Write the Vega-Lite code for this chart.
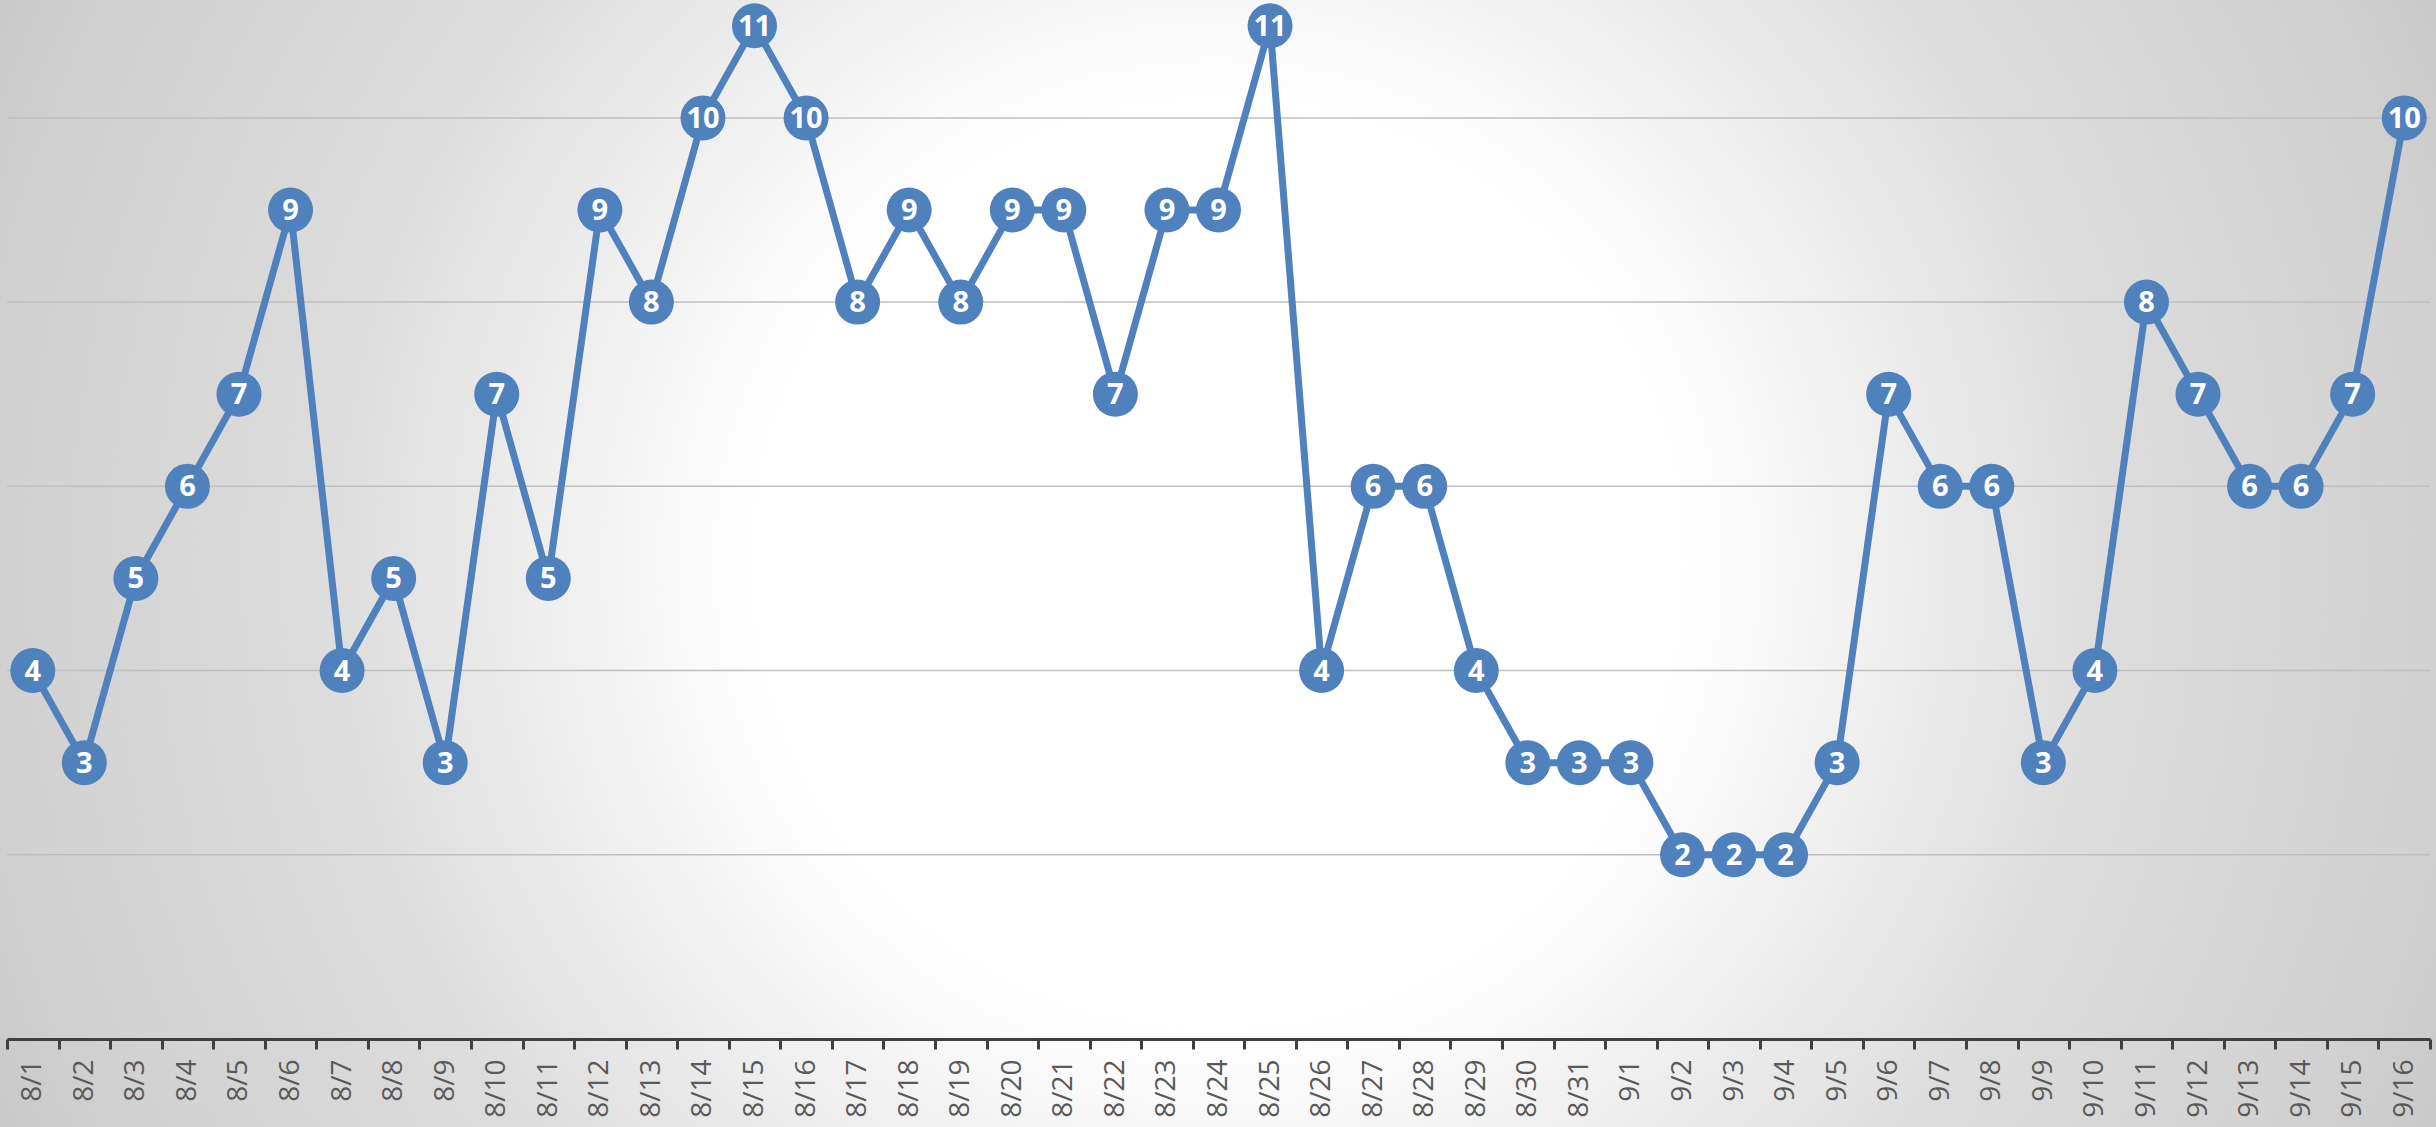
{
  "$schema": "https://vega.github.io/schema/vega-lite/v6.json",
  "width": 2423,
  "height": 1039,
  "autosize": {"type": "none"},
  "padding": {"left": 7, "right": 6, "top": 0, "bottom": 88},
  "background": "#d2d2d2",
  "config": {"view": {"stroke": null}},
  "data": {"values": [
    {"date": "8/1", "value": 4}, {"date": "8/2", "value": 3}, {"date": "8/3", "value": 5},
    {"date": "8/4", "value": 6}, {"date": "8/5", "value": 7}, {"date": "8/6", "value": 9},
    {"date": "8/7", "value": 4}, {"date": "8/8", "value": 5}, {"date": "8/9", "value": 3},
    {"date": "8/10", "value": 7}, {"date": "8/11", "value": 5}, {"date": "8/12", "value": 9},
    {"date": "8/13", "value": 8}, {"date": "8/14", "value": 10}, {"date": "8/15", "value": 11},
    {"date": "8/16", "value": 10}, {"date": "8/17", "value": 8}, {"date": "8/18", "value": 9},
    {"date": "8/19", "value": 8}, {"date": "8/20", "value": 9}, {"date": "8/21", "value": 9},
    {"date": "8/22", "value": 7}, {"date": "8/23", "value": 9}, {"date": "8/24", "value": 9},
    {"date": "8/25", "value": 11}, {"date": "8/26", "value": 4}, {"date": "8/27", "value": 6},
    {"date": "8/28", "value": 6}, {"date": "8/29", "value": 4}, {"date": "8/30", "value": 3},
    {"date": "8/31", "value": 3}, {"date": "9/1", "value": 3}, {"date": "9/2", "value": 2},
    {"date": "9/3", "value": 2}, {"date": "9/4", "value": 2}, {"date": "9/5", "value": 3},
    {"date": "9/6", "value": 7}, {"date": "9/7", "value": 6}, {"date": "9/8", "value": 6},
    {"date": "9/9", "value": 3}, {"date": "9/10", "value": 4}, {"date": "9/11", "value": 8},
    {"date": "9/12", "value": 7}, {"date": "9/13", "value": 6}, {"date": "9/14", "value": 6},
    {"date": "9/15", "value": 7}, {"date": "9/16", "value": 10}
  ]},
  "layer": [
    {
      "data": {"values": [{"bg": 1}]},
      "mark": {
        "type": "rect",
        "fill": {
          "gradient": "radial",
          "x1": 0.5, "y1": 0.5, "r1": 0,
          "x2": 0.5, "y2": 0.5, "r2": 0.56,
          "stops": [
            {"offset": 0, "color": "#ffffff"},
            {"offset": 0.34, "color": "#ffffff"},
            {"offset": 0.66, "color": "#dcdcdc"},
            {"offset": 0.89, "color": "#d1d1d1"},
            {"offset": 1, "color": "#c8c8c8"}
          ]
        }
      },
      "encoding": {
        "x": {"value": -7},
        "x2": {"value": {"expr": "width + 6"}},
        "y": {"value": -655},
        "y2": {"value": {"expr": "height + 743"}}
      }
    },
    {
      "data": {"values": [{"v": 2}, {"v": 4}, {"v": 6}, {"v": 8}, {"v": 10}]},
      "mark": {"type": "rule", "color": "#bfbfbf", "strokeWidth": 1.5},
      "encoding": {
        "y": {"field": "v", "type": "quantitative", "scale": {"domain": [0, 11.28], "nice": false}, "axis": null}
      }
    },
    {
      "mark": {"type": "line", "color": "#4f81bd", "strokeWidth": 7},
      "encoding": {
        "x": {
          "field": "date", "type": "ordinal", "sort": null,
          "scale": {"type": "band", "paddingInner": 0, "paddingOuter": 0},
          "axis": {
            "title": null,
            "zindex": 1,
            "grid": false,
            "tickBand": "extent",
            "tickSize": 10,
            "tickWidth": 3,
            "tickColor": "#404040",
            "domainColor": "#404040",
            "domainWidth": 3,
            "labelAngle": 270,
            "labelAlign": "right",
            "labelBaseline": "middle",
            "labelFont": "Open Sans",
            "labelFontSize": 28,
            "labelColor": "#595959",
            "labelPadding": 10,
            "labelOverlap": false
          }
        },
        "y": {"field": "value", "type": "quantitative", "scale": {"domain": [0, 11.28], "nice": false}, "axis": null}
      }
    },
    {
      "mark": {"type": "circle", "size": 2025, "color": "#4f81bd", "opacity": 1},
      "encoding": {
        "x": {"field": "date", "type": "ordinal", "sort": null},
        "y": {"field": "value", "type": "quantitative"}
      }
    },
    {
      "mark": {"type": "text", "color": "#ffffff", "font": "Open Sans", "fontSize": 29, "fontWeight": "bold", "baseline": "middle", "dy": 1},
      "encoding": {
        "x": {"field": "date", "type": "ordinal", "sort": null},
        "y": {"field": "value", "type": "quantitative"},
        "text": {"field": "value", "type": "quantitative"}
      }
    }
  ]
}
